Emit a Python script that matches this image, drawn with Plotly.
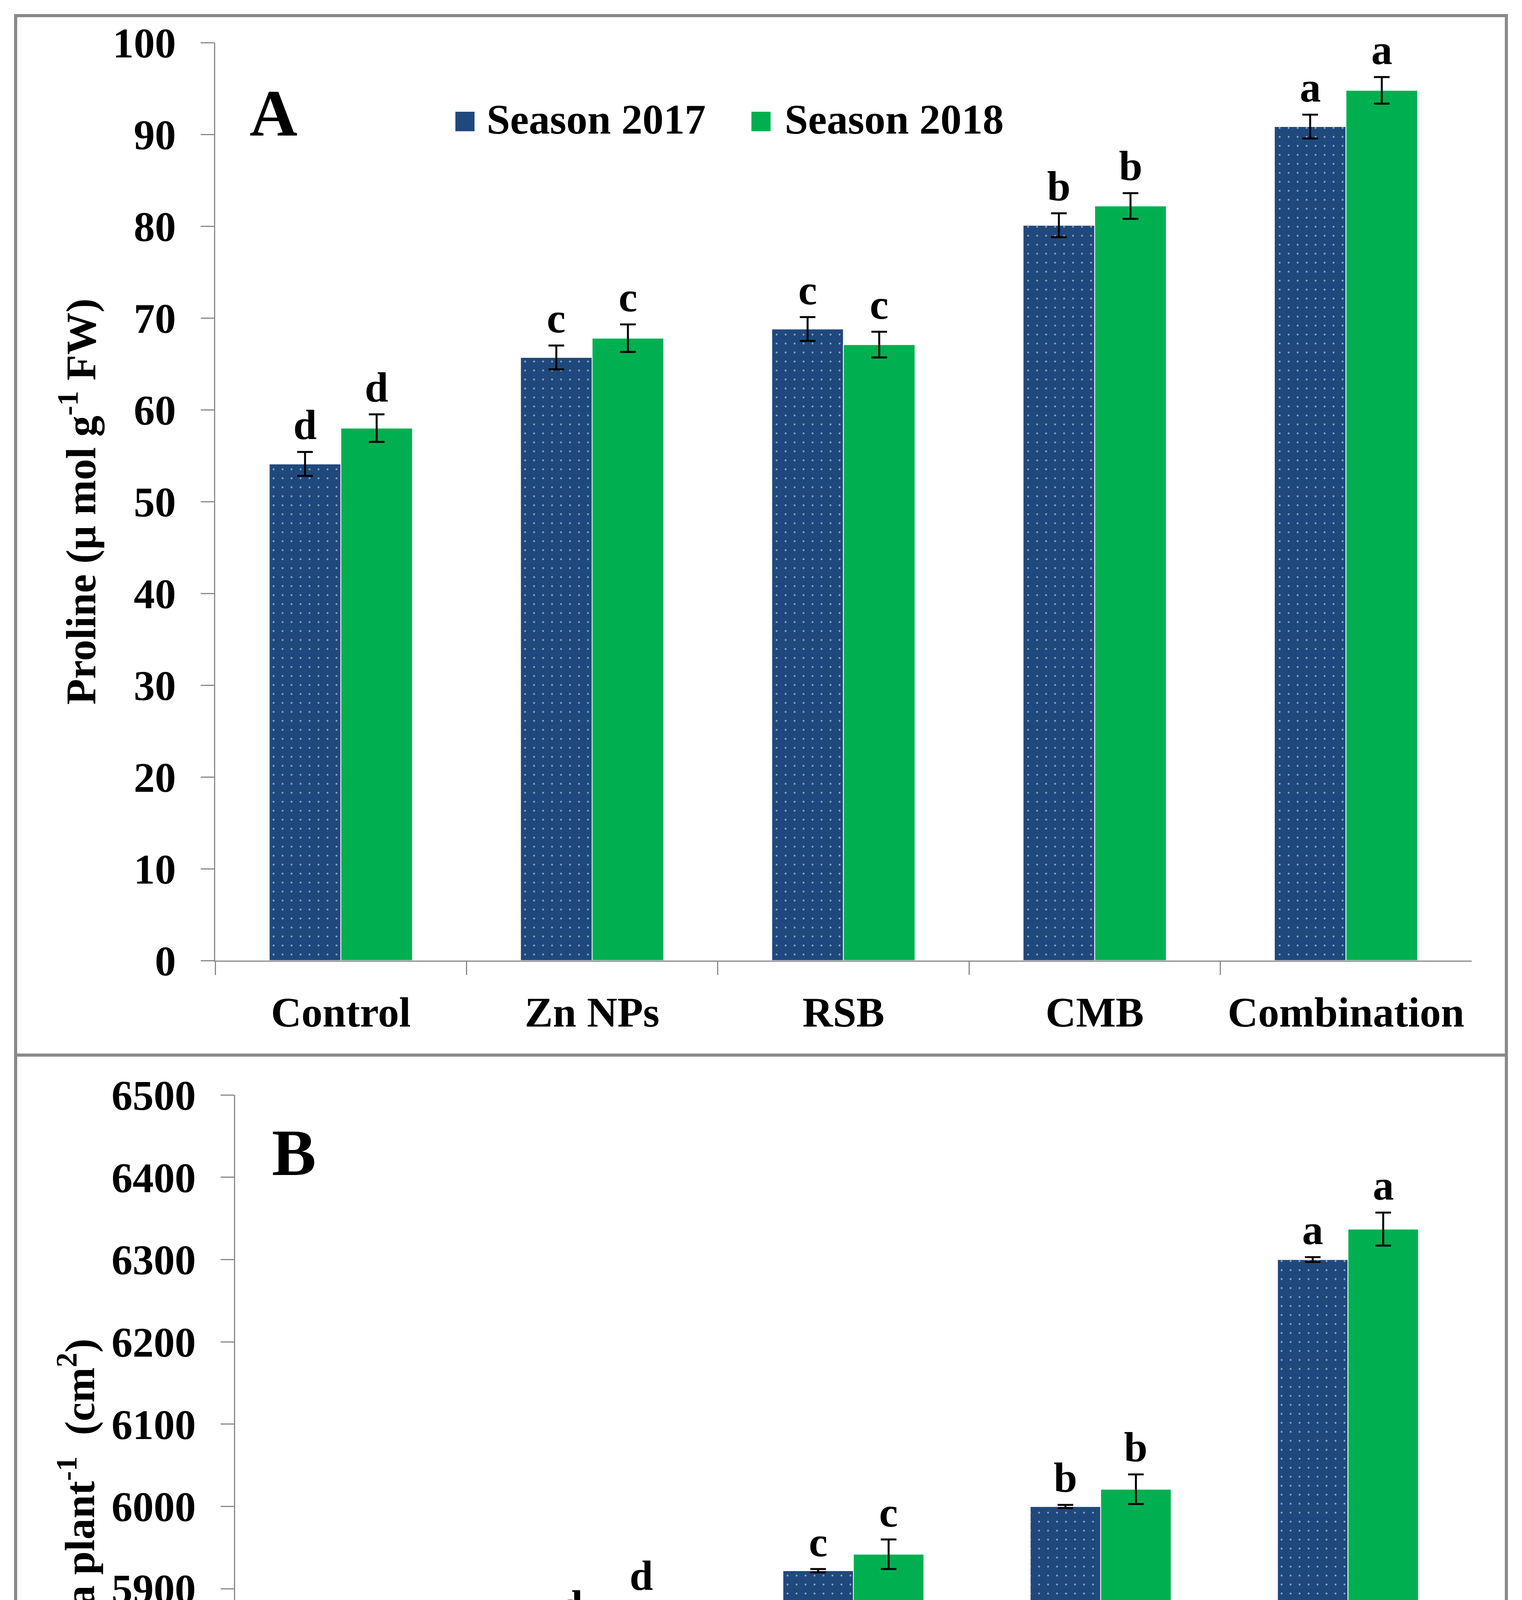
import plotly.graph_objects as go

# ---------------- data ----------------
categories = ["Control", "Zn NPs", "RSB", "CMB", "Combination"]

proline_2017 = [54.1, 65.7, 68.8, 80.1, 90.85]
proline_2018 = [58.0, 67.8, 67.1, 82.2, 94.8]
proline_err_2017 = [1.3, 1.3, 1.3, 1.3, 1.3]
proline_err_2018 = [1.5, 1.5, 1.4, 1.4, 1.45]
proline_letters_2017 = ["d", "c", "c", "b", "a"]
proline_letters_2018 = ["d", "c", "c", "b", "a"]

leaf_2017 = [5744, 5845, 5922, 6000, 6300]
leaf_2018 = [5753, 5865, 5942, 6021, 6337]
leaf_err_2017 = [2, 2, 2, 2, 3]
leaf_err_2018 = [20, 18, 18, 18, 20]
leaf_letters_2017 = ["e", "d", "c", "b", "a"]
leaf_letters_2018 = ["e", "d", "c", "b", "a"]

series_names = ["Season 2017", "Season 2018"]
proline_ticks = list(range(0, 101, 10))
leaf_ticks = list(range(5400, 6501, 100))

# ---------------- style ----------------
W, H = 3897, 5403
FONT = "Liberation Serif"
BLUE = "#1F497D"
GREEN = "#00B050"
GRAY = "#898989"
FS = 108
BARGAP = 0.43


def px_x(p):
    return p / W


def px_y(p):
    return 1 - p / H


fig = go.Figure()


def add_panel(xa, ya, v17, v18, e17, e18, l17, l18):
    fig.add_trace(go.Bar(
        x=categories, y=v17, xaxis=xa, yaxis=ya, name=series_names[0],
        marker=dict(color=BLUE, line=dict(color="white", width=2),
                    pattern=dict(shape=".", fgcolor="white", bgcolor=BLUE,
                                 size=23, solidity=0.035)),
        error_y=dict(type="data", array=e17, color="black", thickness=5, width=20),
        showlegend=False))
    fig.add_trace(go.Bar(
        x=categories, y=v18, xaxis=xa, yaxis=ya, name=series_names[1],
        marker=dict(color=GREEN, line=dict(color="white", width=2)),
        error_y=dict(type="data", array=e18, color="black", thickness=5, width=20),
        showlegend=False))
    off = (1 - BARGAP) / 4
    for i in range(len(categories)):
        for dx, v, e, lab in ((-off, v17[i], e17[i], l17[i]), (off, v18[i], e18[i], l18[i])):
            fig.add_annotation(x=i + dx, y=v + e, xref=xa, yref=ya, text=lab,
                               showarrow=False, yanchor="bottom", yshift=8,
                               font=dict(family=FONT, size=FS, color="black", weight="bold"))


add_panel("x", "y", proline_2017, proline_2018, proline_err_2017, proline_err_2018,
          proline_letters_2017, proline_letters_2018)
add_panel("x2", "y2", leaf_2017, leaf_2018, leaf_err_2017, leaf_err_2018,
          leaf_letters_2017, leaf_letters_2018)

tickfont = dict(family=FONT, size=FS, color="black", weight="bold")
titlefont = dict(family=FONT, size=FS, color="black", weight="bold")

xcommon = dict(type="category", tickson="boundaries", ticks="outside", ticklen=34,
               tickwidth=3, tickcolor=GRAY, showline=True, linecolor=GRAY, linewidth=3,
               tickfont=tickfont, showgrid=False, range=[-0.5, 4.5], ticklabelstandoff=36,
               automargin=False)
ycommon = dict(ticks="outside", ticklen=34, tickwidth=3, tickcolor=GRAY, showline=True,
               linecolor=GRAY, linewidth=3, tickfont=tickfont, showgrid=False,
               zeroline=False, ticklabelstandoff=42, automargin=False)

fig.update_layout(
    width=W, height=H,
    margin=dict(l=0, r=0, t=0, b=0),
    paper_bgcolor="white", plot_bgcolor="white",
    barmode="group", bargap=BARGAP, bargroupgap=0,
    showlegend=False,
    xaxis=dict(domain=[px_x(551), px_x(3768)], anchor="y", **xcommon),
    yaxis=dict(domain=[px_y(2459), px_y(109)], anchor="x", range=[0, 100],
               tickvals=proline_ticks,
               title=dict(text="Proline (\u03bc mol g<sup>-1</sup> FW)", font=titlefont,
                          standoff=8),
               **ycommon),
    xaxis2=dict(domain=[px_x(602), px_x(3768)], anchor="y2", **xcommon),
    yaxis2=dict(domain=[px_y(5121), px_y(2803)], anchor="x2", range=[5400, 6500],
                tickvals=leaf_ticks,
                title=dict(text="Leaf area plant<sup>-1</sup>  (cm<sup>2</sup>)", font=titlefont,
                           standoff=8),
                **ycommon),
)

# panel frames
fig.add_shape(type="rect", xref="paper", yref="paper", x0=px_x(40), x1=px_x(3857),
              y0=px_y(2701), y1=px_y(40), line=dict(color=GRAY, width=8))
fig.add_shape(type="rect", xref="paper", yref="paper", x0=px_x(40), x1=px_x(3857),
              y0=px_y(5363), y1=px_y(2701), line=dict(color=GRAY, width=8))

# panel letters
fig.add_annotation(x=px_x(700), y=px_y(290), xref="paper", yref="paper", text="A",
                   showarrow=False, xanchor="center", yanchor="middle",
                   font=dict(family=FONT, size=170, color="black", weight="bold"))
fig.add_annotation(x=px_x(752), y=px_y(2951), xref="paper", yref="paper", text="B",
                   showarrow=False, xanchor="center", yanchor="middle",
                   font=dict(family=FONT, size=170, color="black", weight="bold"))

# legend (panel A)
legend_items = [(series_names[0], BLUE, 1166, 1244), (series_names[1], GREEN, 1924, 2007)]
for name, col, sx, tx in legend_items:
    fig.add_shape(type="rect", xref="paper", yref="paper", x0=px_x(sx), x1=px_x(sx + 49),
                  y0=px_y(336), y1=px_y(286), fillcolor=col, line=dict(width=0))
    fig.add_annotation(x=px_x(tx), y=px_y(306), xref="paper", yref="paper", text=name,
                       showarrow=False, xanchor="left", yanchor="middle",
                       font=dict(family=FONT, size=FS, color="black", weight="bold"))

fig.write_html("out.html", config={"displayModeBar": False},
               post_script="document.body.style.margin='0';")
